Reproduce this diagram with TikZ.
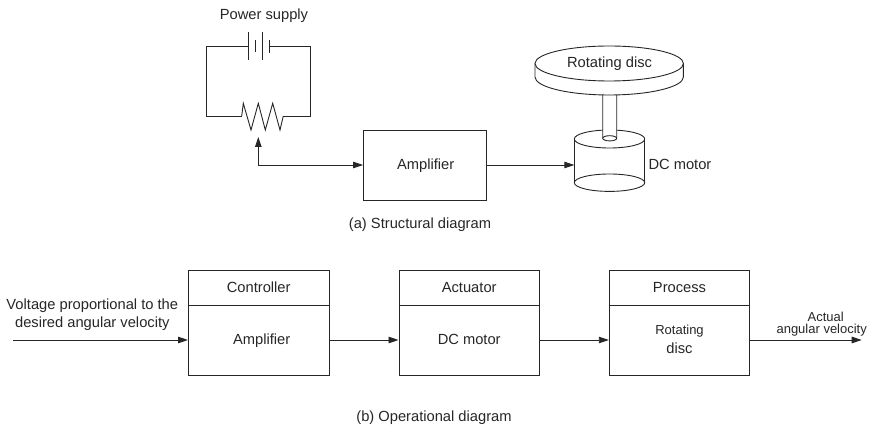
\documentclass[tikz,border=0pt]{standalone}
\usepackage{fontspec}
\setmainfont{Liberation Sans}
\usetikzlibrary{arrows.meta,calc}
\tikzset{
  ln/.style={draw=black!85,line width=0.9pt},
  ar/.style={ln,-{Triangle[length=10pt,width=6.5pt]}},
  blk/.style={ln,rectangle,minimum width=140.5pt,minimum height=105pt,inner sep=0pt},
  lbl/.style={font=\fontsize{14.7}{18}\selectfont,text=black!85,inner sep=0pt,anchor=base},
  small/.style={font=\fontsize{13}{13}\selectfont,text=black!85,inner sep=0pt,anchor=base}
}
\begin{document}
\begin{tikzpicture}[x=1pt,y=-1pt]
\useasboundingbox (0,0) rectangle (870,427);
% power supply
\node[lbl] (ps) at (264,20) {Power supply};
\coordinate (bl) at (248,46.5); \coordinate (br) at (269,46.5);
\coordinate (rl) at (241.7,116); \coordinate (rr) at (283.3,116);
\draw[ln] (bl) -- (206,46.5) -- (206,116) -- (rl);
\draw[ln] (br) -- (310.7,46.5) -- (310.7,116) -- (rr);
\draw[ln] (248,32) -- (248,60);
\draw[ln] (255,40) -- (255,52);
\draw[ln] (262,32) -- (262,60);
\draw[ln] (269,40) -- (269,53);
\draw[ln] (rl) -- (243.3,103.3) -- (251,130) -- (258.3,103.3) -- (265.3,130) -- (272.7,103.3) -- (280,130) -- (rr);
% amplifier
\node[blk,minimum width=123pt,minimum height=70pt] (amp) at (425,165) {};
\node[lbl] (ampt) at (425.7,170) {Amplifier};
\coordinate (wiper) at (258.3,137);
\coordinate (elbow) at (258.3,165);
\draw[ar] (elbow) -- (wiper);
\draw[ar] (elbow) -- (amp.west);
% motor
\coordinate (mw) at (574.3,165);
\draw[ar] (amp.east) -- (mw);
\draw[ln] (609.5,139) ellipse [x radius=35.2,y radius=9];
\draw[ln] (609.5,182.7) ellipse [x radius=35.2,y radius=8.7];
\draw[ln] (574.3,139) -- (574.3,182.7);
\draw[ln] (644.7,139) -- (644.7,182.7);
\draw[ln,fill=white] (602.7,94) -- (602.7,138.3) arc[start angle=180,end angle=0,x radius=7,y radius=2.6] -- (616.7,94);
\draw[ln] (602.7,138.3) arc[start angle=180,end angle=360,x radius=7,y radius=2.6];
\node[lbl,anchor=base west] (dc) at (648.3,170) {DC motor};
% disc
\draw[ln,fill=white] (535,63.5) -- (535,77) arc[start angle=180,end angle=0,x radius=74.2,y radius=18] -- (683.4,63.5);
\draw[ln,fill=white] (609.2,63.5) ellipse [x radius=74.2,y radius=17.5];
\node[lbl] (rd) at (609.5,67.3) {Rotating disc};
\node[lbl] (cap1) at (420,228.5) {(a) Structural diagram};
% bottom row
\node[blk] (c) at (258.7,322.5) {};
\node[blk] (a) at (469.2,322.5) {};
\node[blk] (p) at (679.5,322.5) {};
\foreach \n/\t in {c/Controller,a/Actuator,p/Process}{
  \draw[ln] (\n.west |- 0,305) -- (\n.east |- 0,305);
  \node[lbl] (\n t) at (\n |- 0,292.3) {\t};
}
\node[lbl] (cb) at (261.7,345) {Amplifier};
\node[lbl] (ab) at (a |- 0,345) {DC motor};
\node[small] (pb1) at (p |- 0,335) {Rotating};
\node[lbl] (pb2) at (p |- 0,353.3) {disc};
\coordinate (in) at (13,340);
\coordinate (out) at (861.7,340);
\draw[ar] (in) -- (c.west |- in);
\draw[ar] (c.east |- in) -- (a.west |- in);
\draw[ar] (a.east |- in) -- (p.west |- in);
\draw[ar] (p.east |- in) -- (out);
\node[lbl] (v1) at (92.3,309.3) {Voltage proportional to the};
\node[lbl] (v2) at (92.3,327.3) {desired angular velocity};
\node[small] (at1) at (825.7,321.7) {Actual};
\node[small] (at2) at (821.7,334) {angular velocity};
\node[lbl] (cap2) at (434,421) {(b) Operational diagram};
\end{tikzpicture}
\end{document}
